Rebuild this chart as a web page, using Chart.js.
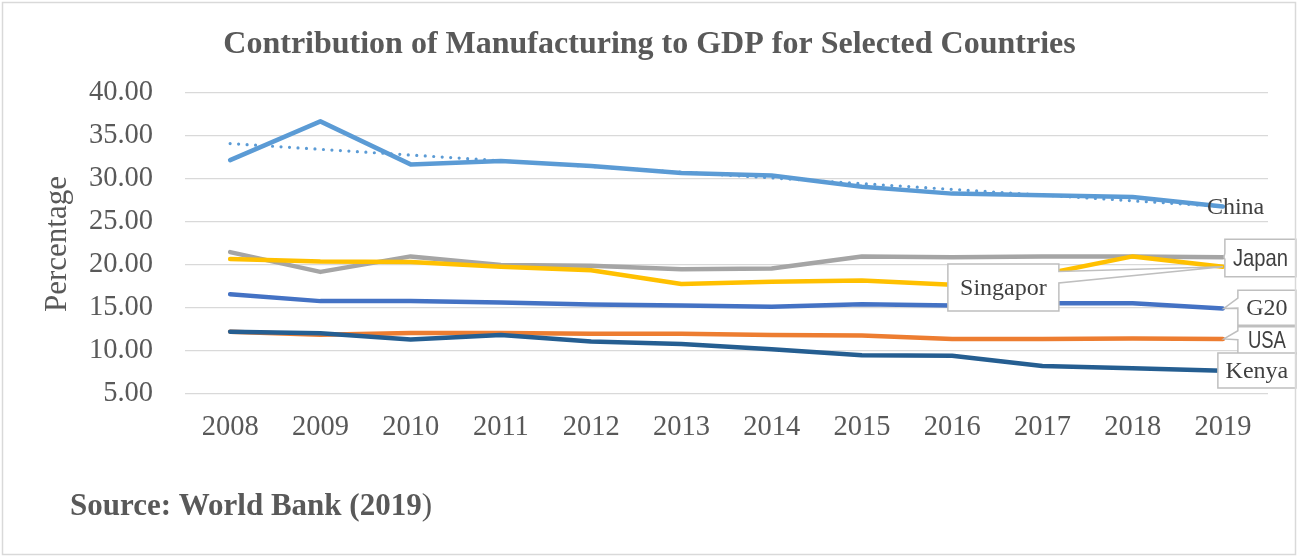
<!DOCTYPE html>
<html>
<head>
<meta charset="utf-8">
<script src="https://cdn.jsdelivr.net/npm/chart.js@4.4.1/dist/chart.umd.min.js"></script>
<style>
  html, body { margin: 0; padding: 0; background: #ffffff; }
  canvas { display: block; }
</style>
</head>
<body>
<canvas id="chart" width="1299" height="557"></canvas>
<script>
// Manufacturing value added, % of GDP
const years     = ['2008', '2009', '2010', '2011', '2012', '2013', '2014', '2015', '2016', '2017', '2018', '2019'];
const china     = [32.2, 36.7, 31.7, 32.1, 31.5, 30.7, 30.4, 29.1, 28.3, 28.1, 27.9, 26.8];
const japan     = [21.5, 19.2, 21.0, 20.0, 19.9, 19.5, 19.6, 21.0, 20.9, 21.0, 21.0, 20.9];
const singapore = [20.7, 20.4, 20.35, 19.8, 19.4, 17.8, 18.05, 18.2, 17.7, 18.9, 21.0, 19.8];
const g20       = [16.6, 15.8, 15.8, 15.65, 15.4, 15.3, 15.15, 15.45, 15.3, 15.55, 15.55, 14.95];
const usa       = [12.25, 11.9, 12.1, 12.1, 12.0, 12.0, 11.85, 11.8, 11.4, 11.4, 11.45, 11.4];
const kenya     = [12.25, 12.05, 11.35, 11.85, 11.1, 10.8, 10.2, 9.5, 9.45, 8.25, 8.0, 7.7];
const yTicks    = [5, 10, 15, 20, 25, 30, 35, 40];

const SERIF = '"Liberation Serif", "Times New Roman", "DejaVu Serif", serif';
const SANS  = '"Liberation Sans", Arial, "DejaVu Sans", sans-serif';

// Least-squares linear trend of the China series
function linearTrend(values) {
  const n = values.length;
  const mx = (n - 1) / 2;
  const my = values.reduce((a, b) => a + b, 0) / n;
  let sxy = 0, sxx = 0;
  values.forEach((v, i) => { sxy += (i - mx) * (v - my); sxx += (i - mx) * (i - mx); });
  const slope = sxy / sxx;
  return values.map((_, i) => my + slope * (i - mx));
}
const chinaTrend = linearTrend(china);

// End-of-line labels: offsets are relative to each series' last point
const endLabels = [
  { ds: 1, text: 'China',    family: SERIF, boxed: false, dx: -16, dy: 1 },
  { ds: 2, text: 'Japan',    family: SANS,  boxed: true, dx: 2,    dy: -18, w: 71,  h: 37.5, fit: 55, pointer: 'left', p1: 14, p2: 20 },
  { ds: 3, text: 'Singapor', family: SERIF, boxed: true, dx: -275, dy: -2.7, w: 111, h: 47, pointer: 'right', p1: 7.5, p2: 19 },
  { ds: 4, text: 'G20',      family: SERIF, boxed: true, dx: 15,   dy: -18.3, w: 58, h: 35, pointer: 'left', p1: 8, p2: 18 },
  { ds: 5, text: 'USA',      family: SANS,  boxed: true, dx: 15,   dy: -12.2, w: 58, h: 27, pointer: 'left', p1: 4, p2: 13, fit: 38 },
  { ds: 6, text: 'Kenya',    family: SERIF, boxed: true, dx: -5,   dy: -17.7, w: 78, h: 35 }
];

const frame = {
  id: 'frame',
  beforeDraw(chart) {
    const c = chart.ctx;
    c.save();
    c.fillStyle = '#ffffff';
    c.fillRect(0, 0, chart.width, chart.height);
    c.restore();
  },
  afterDatasetsDraw(chart) {
    const c = chart.ctx;
    c.save();
    endLabels.forEach(l => {
      const meta = chart.getDatasetMeta(l.ds);
      const pt = meta.data[meta.data.length - 1];
      const fontSize = 24;
      c.font = fontSize + 'px ' + l.family;
      c.fillStyle = '#404040';
      c.textBaseline = 'middle';
      if (!l.boxed) {
        c.textAlign = 'left';
        c.fillText(l.text, pt.x + l.dx, pt.y + l.dy);
        return;
      }
      const L = pt.x + l.dx, T = pt.y + l.dy, R = L + l.w, B = T + l.h;
      c.beginPath();
      if (l.pointer === 'left') {
        c.moveTo(L, T); c.lineTo(R, T); c.lineTo(R, B); c.lineTo(L, B);
        c.lineTo(L, T + l.p2); c.lineTo(pt.x + 1, pt.y); c.lineTo(L, T + l.p1);
      } else if (l.pointer === 'right') {
        c.moveTo(L, T); c.lineTo(R, T); c.lineTo(R, T + l.p1); c.lineTo(pt.x, pt.y);
        c.lineTo(R, T + l.p2); c.lineTo(R, B); c.lineTo(L, B);
      } else {
        c.rect(L, T, l.w, l.h);
      }
      c.closePath();
      c.fillStyle = '#ffffff';
      c.fill();
      c.strokeStyle = '#BFBFBF';
      c.lineWidth = 1.5;
      c.stroke();
      c.fillStyle = '#404040';
      c.textAlign = 'center';
      if (l.fit) c.fillText(l.text, L + l.w / 2, T + l.h / 2 + 1, l.fit);
      else c.fillText(l.text, L + l.w / 2, T + l.h / 2 + 1);
    });
    c.restore();
  },
  afterDraw(chart) {
    const c = chart.ctx;
    c.save();
    // chart title
    c.fillStyle = '#595959';
    c.font = 'bold 32px ' + SERIF;
    c.textAlign = 'center';
    c.textBaseline = 'alphabetic';
    c.fillText('Contribution of Manufacturing to GDP for Selected Countries', chart.width / 2, 53);
    // vertical axis title
    c.save();
    c.translate(58, 244);
    c.rotate(-Math.PI / 2);
    c.font = '31px ' + SERIF;
    c.textBaseline = 'middle';
    c.fillText('Percentage', 0, 0);
    c.restore();
    // source note
    c.textAlign = 'left';
    c.font = 'bold 31px ' + SERIF;
    const src = 'Source: World Bank (2019';
    c.fillText(src, 70, 515);
    const w = c.measureText(src).width;
    c.font = '31px ' + SERIF;
    c.fillText(')', 70 + w, 515);
    // outer frame
    c.strokeStyle = '#D9D9D9';
    c.lineWidth = 1.5;
    c.strokeRect(2.5, 2.5, chart.width - 6, chart.height - 5);
    c.restore();
  }
};

new Chart(document.getElementById('chart'), {
  type: 'line',
  data: {
    labels: years,
    datasets: [
      { label: 'China (linear trend)', data: chinaTrend, borderColor: '#5B9BD5', borderWidth: 3.2,
        borderDash: [0, 8.5], borderCapStyle: 'round', order: 0 },
      { label: 'China',     data: china,     borderColor: '#5B9BD5', order: 6 },
      { label: 'Japan',     data: japan,     borderColor: '#A5A5A5', order: 5 },
      { label: 'Singapore', data: singapore, borderColor: '#FFC000', order: 4 },
      { label: 'G20',       data: g20,       borderColor: '#4472C4', order: 3 },
      { label: 'USA',       data: usa,       borderColor: '#ED7D31', order: 2 },
      { label: 'Kenya',     data: kenya,     borderColor: '#255E91', order: 1 }
    ]
  },
  options: {
    responsive: false,
    animation: false,
    devicePixelRatio: 1,
    layout: { padding: { left: 0, right: 31, top: 93, bottom: 103 } },
    elements: {
      line: { tension: 0, borderWidth: 4.5, borderCapStyle: 'round', borderJoinStyle: 'round', fill: false },
      point: { radius: 0, hoverRadius: 0 }
    },
    plugins: {
      legend: { display: false },
      tooltip: { enabled: false },
      title: { display: false }
    },
    scales: {
      x: {
        offset: true,
        grid: { display: false, drawTicks: false },
        border: { display: false },
        ticks: { color: '#595959', font: { family: SERIF, size: 28.5 }, padding: 16, maxRotation: 0, autoSkip: false },
        afterFit: s => { s.height = 60; }
      },
      y: {
        min: yTicks[0],
        max: yTicks[yTicks.length - 1],
        afterBuildTicks: s => { s.ticks = yTicks.map(v => ({ value: v })); },
        grid: { color: '#D9D9D9', lineWidth: 1.3, drawTicks: false },
        border: { display: false },
        ticks: { color: '#595959', font: { family: SERIF, size: 28.5 }, padding: 32,
                 callback: v => Number(v).toFixed(2) },
        afterFit: s => { s.width = 185; }
      }
    }
  },
  plugins: [frame]
});
</script>
</body>
</html>
